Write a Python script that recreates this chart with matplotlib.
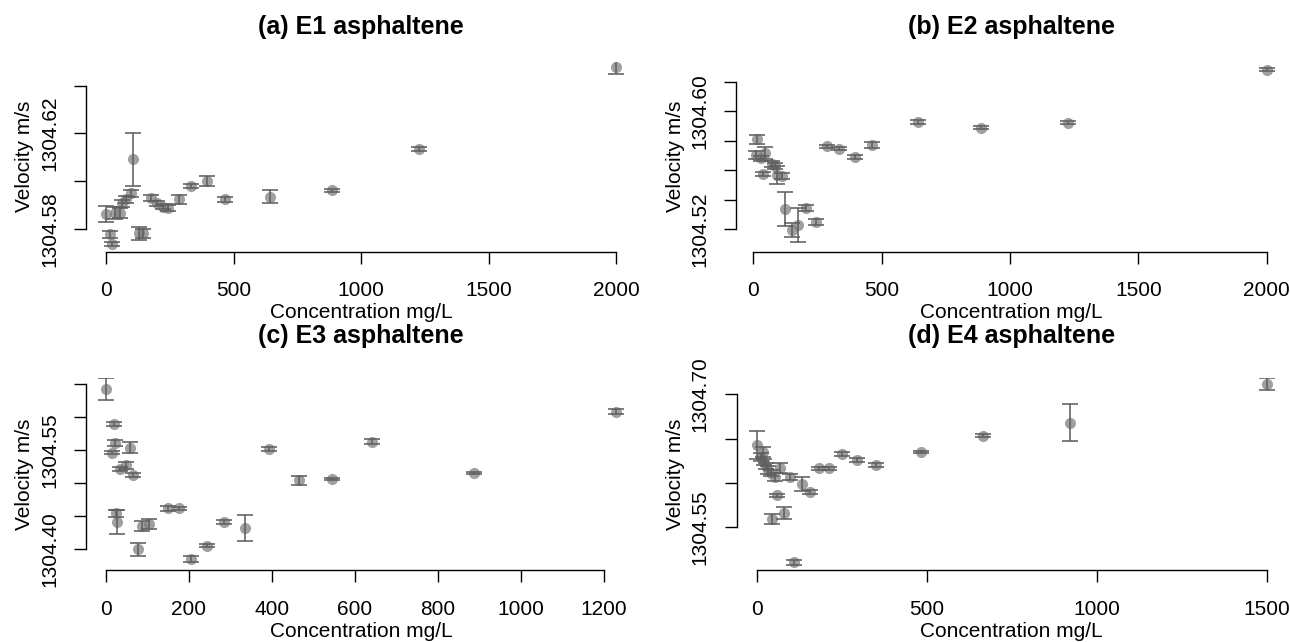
import matplotlib.pyplot as plt

plt.rcParams['font.family'] = ['Liberation Sans', 'DejaVu Sans']

# (a) E1 asphaltene
conc_e1 = [0, 16, 22, 35, 55, 61, 78, 98, 107, 131, 146, 176, 199, 222, 244,
           288, 333, 395, 467, 643, 888, 1227, 2000]
vel_e1 = [1304.5863, 1304.5778, 1304.5737, 1304.5866, 1304.5866, 1304.5908,
          1304.5924, 1304.5950, 1304.6093, 1304.5782, 1304.5782, 1304.5929,
          1304.5908, 1304.5893, 1304.5889, 1304.5924, 1304.5980, 1304.6001,
          1304.5924, 1304.5935, 1304.5963, 1304.6135, 1304.6480]
err_e1 = [0.0035, 0.0015, 0.0010, 0.0025, 0.0020, 0.0015, 0.0015, 0.0015,
          0.0111, 0.0028, 0.0020, 0.0012, 0.0010, 0.0010, 0.0012, 0.0020,
          0.0010, 0.0022, 0.0012, 0.0028, 0.0006, 0.0010, 0.0030]

# (b) E2 asphaltene
conc_e2 = [13, 10.5, 29, 45.6, 71.7, 84.5, 39, 91, 110.6, 123.5, 149.6, 175.3,
           205, 243, 286, 334, 396, 463.6, 643, 887, 1227, 2000]
vel_e2 = [1304.5810, 1304.5703, 1304.5680, 1304.5719, 1304.5642, 1304.5629,
          1304.5573, 1304.5568, 1304.5561, 1304.5338, 1304.5195, 1304.5229,
          1304.5346, 1304.5252, 1304.5764, 1304.5746, 1304.5692, 1304.5769,
          1304.5925, 1304.5888, 1304.5922, 1304.6280]
err_e2 = [0.0032, 0.0027, 0.0020, 0.0040, 0.0020, 0.0020, 0.0014, 0.0059,
          0.0020, 0.0117, 0.0047, 0.0115, 0.0020, 0.0020, 0.0010, 0.0010,
          0.0014, 0.0020, 0.0014, 0.0010, 0.0010, 0.0010]

# (c) E3 asphaltene
conc_e3 = [0, 18.5, 21.7, 15.2, 57.8, 33.7, 48.2, 65.8, 24.1, 27.2, 86, 103.6,
           77.9, 148.6, 176.7, 204.8, 242.6, 285, 335, 393.6, 465, 545, 642,
           887, 1228]
vel_e3 = [1304.643, 1304.590, 1304.5614, 1304.546, 1304.554, 1304.521,
          1304.527, 1304.5123, 1304.454, 1304.4414, 1304.435, 1304.4375,
          1304.3995, 1304.462, 1304.462, 1304.3848, 1304.405, 1304.4405,
          1304.4314, 1304.5518, 1304.5047, 1304.5058, 1304.563, 1304.5158,
          1304.6084]
err_e3 = [0.0164, 0.0030, 0.0045, 0.0023, 0.0083, 0.0030, 0.0053, 0.0030,
          0.0056, 0.0180, 0.0076, 0.0076, 0.0101, 0.0038, 0.0023, 0.0045,
          0.0023, 0.0030, 0.0197, 0.0023, 0.0068, 0.0015, 0.0038, 0.0015,
          0.0038]

# (d) E4 asphaltene
conc_e4 = [0, 17.6, 11.8, 21.5, 27.4, 34, 41, 54, 68.5, 98, 132, 157, 59, 80.4,
           44, 110.7, 183, 213.6, 252, 296, 350, 482, 665, 921.5, 1500]
vel_e4 = [1304.6428, 1304.6353, 1304.6296, 1304.6240, 1304.6191, 1304.6146,
          1304.6110, 1304.6070, 1304.6166, 1304.6070, 1304.5988, 1304.5902,
          1304.5864, 1304.5658, 1304.5594, 1304.5105, 1304.6166, 1304.6166,
          1304.6323, 1304.6259, 1304.6203, 1304.6353, 1304.6530, 1304.6680,
          1304.7113]
err_e4 = [0.0161, 0.0056, 0.0045, 0.0034, 0.0034, 0.0045, 0.0034, 0.0045,
          0.0056, 0.0034, 0.0079, 0.0023, 0.0017, 0.0068, 0.0056, 0.0028,
          0.0017, 0.0017, 0.0023, 0.0023, 0.0023, 0.0011, 0.0017, 0.0206,
          0.0068]

W, H = 1290, 642
fig = plt.figure(figsize=(12.9, 6.42), dpi=100)


def panel(box, xmap, ymap, conc, vel, err, xticks, yticks, ylabels, title,
          ylab_x, xlab_y, title_y):
    # box in pixels: left, right, top, bottom
    L, R, T, B = box
    x0, sx = xmap
    yref, vref, sy = ymap
    ax = fig.add_axes([L / W, 1 - B / H, (R - L) / W, (B - T) / H])
    ax.set_xlim((L - x0) / sx, (R - x0) / sx)
    ax.set_ylim(vref - (B - yref) / sy, vref + (yref - T) / sy)

    ax.plot(conc, vel, 'o', ms=8, color='#7c7c7c', alpha=0.72,
            mec='none', zorder=2)
    ax.errorbar(conc, vel, yerr=err, fmt='none', ecolor='#5f5f5f',
                elinewidth=1.15, capsize=5.6, capthick=1.15, zorder=3)

    ax.spines['top'].set_visible(False)
    ax.spines['right'].set_visible(False)
    ax.spines['bottom'].set_bounds(xticks[0], xticks[-1])
    ax.spines['left'].set_bounds(yticks[0], yticks[-1])
    ax.spines['bottom'].set_linewidth(1.0)
    ax.spines['left'].set_linewidth(1.0)

    ax.set_xticks(xticks, labels=[str(t) for t in xticks])
    ax.set_yticks(yticks, labels=ylabels)
    ax.tick_params(length=8.9, width=1.0, labelsize=15, direction='out')
    ax.tick_params(axis='x', pad=12.5)
    ax.tick_params(axis='y', pad=13.5)
    for lab in ax.get_yticklabels():
        lab.set_rotation(90)
        lab.set_rotation_mode('anchor')
        lab.set_ha('center')
        lab.set_va('baseline')

    ax.set_ylabel('Velocity m/s', fontsize=15)
    ax.yaxis.set_label_coords((ylab_x - L) / (R - L), 0.5)
    ax.yaxis.label.set_va('center')
    ax.set_xlabel('Concentration mg/L', fontsize=15)
    ax.xaxis.set_label_coords(0.5, (B - xlab_y) / (B - T))
    ax.xaxis.label.set_va('baseline')

    ax.text(0.5, (B - title_y) / (B - T), title, transform=ax.transAxes,
            ha='center', va='center', fontsize=18, fontweight='bold')
    return ax


panel((86, 636, 61.7, 251.7), (106, 0.255), (229, 1304.58, 2388),
      conc_e1, vel_e1, err_e1, [0, 500, 1000, 1500, 2000],
      [1304.58, 1304.60, 1304.62, 1304.64], ['1304.58', '', '1304.62', ''],
      '(a) E1 asphaltene', 24.5, 318, 27)

panel((736, 1287, 61.7, 251.7), (753.3, 0.2567), (229.3, 1304.52, 1476),
      conc_e2, vel_e2, err_e2, [0, 500, 1000, 1500, 2000],
      [1304.52, 1304.54, 1304.56, 1304.58, 1304.60, 1304.62],
      ['1304.52', '', '', '', '1304.60', ''],
      '(b) E2 asphaltene', 675.5, 318, 27)

panel((86, 636, 378, 570), (106, 0.415), (549, 1304.40, 658.8),
      conc_e3, vel_e3, err_e3, [0, 200, 400, 600, 800, 1000, 1200],
      [1304.40, 1304.45, 1304.50, 1304.55, 1304.60, 1304.65],
      ['1304.40', '', '', '1304.55', '', ''],
      '(c) E3 asphaltene', 24.5, 637, 336)

panel((736.5, 1287, 378, 570), (756.7, 0.34), (527.3, 1304.55, 886.7),
      conc_e4, vel_e4, err_e4, [0, 500, 1000, 1500],
      [1304.55, 1304.60, 1304.65, 1304.70], ['1304.55', '', '', '1304.70'],
      '(d) E4 asphaltene', 675.5, 637, 336)

fig.savefig('out.png', dpi=100)
